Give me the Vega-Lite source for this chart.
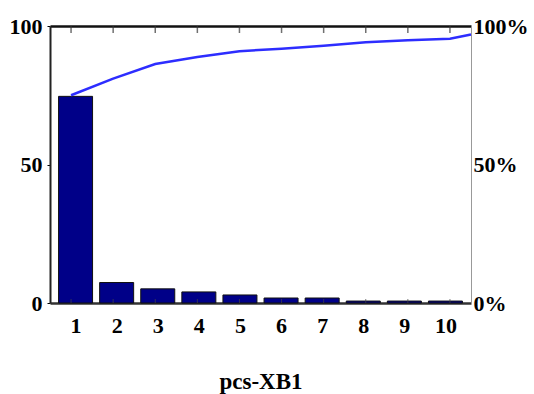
{
  "$schema": "https://vega.github.io/schema/vega-lite/v6.json",
  "width": 421,
  "height": 277,
  "autosize": {"type": "none"},
  "padding": {"left": 50, "top": 26, "right": 63, "bottom": 91},
  "background": "white",
  "config": {
    "view": {"stroke": null},
    "font": "Times New Roman",
    "axis": {
      "labelFont": "Times New Roman",
      "labelFontSize": 22,
      "labelFontWeight": "bold",
      "labelColor": "black",
      "titleFont": "Times New Roman",
      "titleFontSize": 23,
      "titleFontWeight": "bold",
      "titleColor": "black",
      "grid": false,
      "tickColor": "black"
    }
  },
  "datasets": {
    "bars": [
      {"pc": 1, "value": 74.6},
      {"pc": 2, "value": 7.4},
      {"pc": 3, "value": 5.1},
      {"pc": 4, "value": 4.0},
      {"pc": 5, "value": 2.9},
      {"pc": 6, "value": 1.8},
      {"pc": 7, "value": 1.8},
      {"pc": 8, "value": 0.7},
      {"pc": 9, "value": 0.7},
      {"pc": 10, "value": 0.7}
    ],
    "cumul": [
      {"pc": 1, "cum": 75.0},
      {"pc": 2, "cum": 81.0},
      {"pc": 3, "cum": 86.3},
      {"pc": 4, "cum": 88.8},
      {"pc": 5, "cum": 90.9},
      {"pc": 6, "cum": 91.8},
      {"pc": 7, "cum": 92.9},
      {"pc": 8, "cum": 94.1},
      {"pc": 9, "cum": 94.9},
      {"pc": 10, "cum": 95.4},
      {"pc": 10.5, "cum": 96.9}
    ]
  },
  "layer": [
    {
      "data": {"name": "bars"},
      "mark": {"type": "bar", "size": 34, "fill": "#000088", "stroke": "#111111", "strokeWidth": 1},
      "encoding": {
        "x": {
          "field": "pc",
          "type": "quantitative",
          "scale": {"domain": [0.5, 10.5], "nice": false, "zero": false},
          "axis": {
            "orient": "bottom",
            "values": [1, 2, 3, 4, 5, 6, 7, 8, 9, 10],
            "format": "d",
            "title": "pcs-XB1",
            "ticks": false,
            "tickSize": 0,
            "labelPadding": 12,
            "titlePadding": 34,
            "domainColor": "#333333",
            "domainWidth": 2.5
          }
        },
        "y": {
          "field": "value",
          "type": "quantitative",
          "scale": {"domain": [0, 100], "nice": false},
          "axis": {
            "orient": "left",
            "values": [0, 50, 100],
            "title": null,
            "domainColor": "#222222",
            "domainWidth": 2,
            "tickSize": 3,
            "labelPadding": 5
          }
        }
      }
    },
    {
      "data": {"name": "bars"},
      "mark": {"type": "tick", "orient": "vertical", "color": "#333333", "thickness": 1.5, "size": 7, "yOffset": 3.5},
      "encoding": {
        "x": {"field": "pc", "type": "quantitative", "scale": {"domain": [0.5, 10.5], "nice": false, "zero": false}, "axis": null},
        "y": {"datum": 100, "type": "quantitative", "scale": {"domain": [0, 100], "nice": false}, "axis": null}
      }
    },
    {
      "data": {"name": "bars"},
      "mark": {"type": "tick", "orient": "vertical", "color": "#444444", "thickness": 1, "size": 4, "yOffset": -2},
      "encoding": {
        "x": {"field": "pc", "type": "quantitative", "scale": {"domain": [0.5, 10.5], "nice": false, "zero": false}, "axis": null},
        "y": {"datum": 0, "type": "quantitative", "scale": {"domain": [0, 100], "nice": false}, "axis": null}
      }
    },
    {
      "data": {"name": "cumul"},
      "mark": {"type": "line", "color": "#2d2dff", "strokeWidth": 2.5},
      "encoding": {
        "x": {
          "field": "pc",
          "type": "quantitative",
          "scale": {"domain": [0.5, 10.5], "nice": false, "zero": false},
          "axis": {
            "orient": "top",
            "values": [1, 2, 3, 4, 5, 6, 7, 8, 9, 10],
            "labels": false,
            "ticks": false,
            "title": null,
            "domainColor": "#111111",
            "domainWidth": 2.5
          }
        },
        "y": {
          "field": "cum",
          "type": "quantitative",
          "scale": {"domain": [0, 100], "nice": false},
          "axis": {
            "orient": "right",
            "values": [0, 50, 100],
            "labelExpr": "datum.value + '%'",
            "title": null,
            "domainColor": "#999999",
            "domainWidth": 1,
            "tickSize": 0,
            "labelPadding": 2
          }
        }
      }
    }
  ],
  "resolve": {
    "scale": {"x": "independent", "y": "independent"},
    "axis": {"x": "independent", "y": "independent"}
  }
}
